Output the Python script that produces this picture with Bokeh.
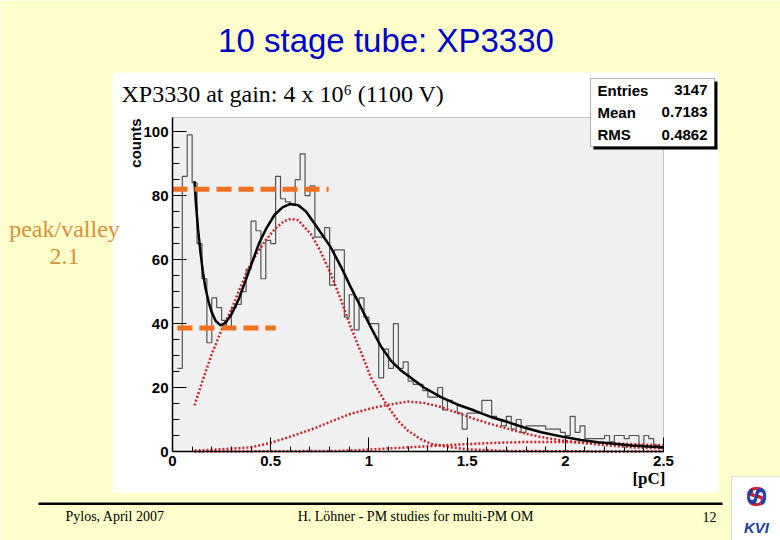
from bokeh.plotting import figure
from bokeh.models import (Range1d, Label, BoxAnnotation, SingleIntervalTicker,
                          NumeralTickFormatter, LinearAxis)
from bokeh.embed import file_html
from bokeh.resources import INLINE
import math

# ---------------- data ----------------
bin_width = 0.025
first_bin_low = 0.025
counts = [26, 86, 99, 84, 65, 54, 34, 48, 45, 41,
          39, 45, 46, 50, 57, 72, 69, 54, 66, 65,
          86, 79, 78, 77, 85, 93, 80, 83, 67, 67,
          70, 52, 63, 63, 42, 49, 38, 48, 42, 40,
          40, 23, 32, 26, 40, 26, 28, 22, 21, 21,
          19, 17, 17, 20, 13, 16, 15, 12, 7, 12,
          12, 12, 16, 16, 11, 10, 8, 11, 7, 10,
          6, 8, 8, 8, 8, 7, 7, 7, 6, 5,
          11, 6, 8, 4, 4, 4, 4, 5, 3, 5,
          5, 4, 5, 5, 2, 5, 4, 2, 1]

fit_x = [0.112, 0.12, 0.13, 0.143, 0.155, 0.168, 0.185, 0.2, 0.22, 0.245, 0.27, 0.3, 0.34,
         0.372, 0.44, 0.48, 0.52, 0.56, 0.6, 0.64, 0.68, 0.72, 0.76, 0.806, 0.86, 0.908,
         0.96, 1.01, 1.06, 1.112, 1.16, 1.2, 1.28, 1.367, 1.45, 1.537, 1.62, 1.708, 1.79,
         1.878, 1.995, 2.08, 2.167, 2.25, 2.337, 2.42, 2.5]
fit_y = [84.5, 77, 69.5, 62, 56, 51, 46.5, 43.5, 40.8, 39.4, 40.2, 42.8, 48,
         53.4, 65, 70, 74, 76.3, 77.4, 77, 75, 71.5, 68, 63.8, 57.5, 51.3,
         45, 38.8, 33, 28.4, 25.5, 23.7, 20, 17, 14.7, 12.8, 10.8, 9.2, 7.5,
         6.0, 4.5, 3.6, 2.9, 2.4, 1.9, 1.6, 1.3]

g1_x = [0.112, 0.15, 0.2, 0.25, 0.304, 0.35, 0.39, 0.43, 0.474, 0.52, 0.568, 0.602, 0.64,
        0.704, 0.75, 0.806, 0.86, 0.908, 0.96, 1.01, 1.087, 1.15, 1.197, 1.26, 1.316,
        1.418, 1.5, 1.7, 2.0, 2.5]
g1_y = [14.4, 21.5, 30.5, 38, 45, 52, 57.6, 62, 66, 69.5, 72, 72.7, 72.3,
        68, 63, 55.5, 47, 38.8, 31, 23.2, 14.9, 9.5, 6.6, 4, 2.4,
        1.3, 0.7, 0.2, 0.05, 0]

g2_x = [0.112, 0.2, 0.3, 0.398, 0.48, 0.568, 0.65, 0.738, 0.82, 0.908, 1.0, 1.078, 1.197,
        1.28, 1.367, 1.45, 1.537, 1.62, 1.708, 1.79, 1.878, 1.995, 2.167, 2.337, 2.5]
g2_y = [0.3, 0.5, 0.9, 1.3, 2.4, 4.0, 5.7, 7.6, 9.7, 11.8, 13.3, 14.4, 15.6,
        15.2, 13.9, 12.1, 10.2, 8.6, 7.1, 5.7, 4.5, 3.3, 2.2, 1.3, 1.0]

g3_x = [0.112, 0.5, 0.86, 1.0, 1.2, 1.4, 1.6, 1.8, 2.0, 2.2, 2.5]
g3_y = [0.0, 0.05, 0.2, 0.6, 1.3, 2.0, 2.6, 3.0, 3.0, 2.7, 1.9]

pv_level = [82, 38.6]
pv_start = [0.0, 0.025]
pv_end = [0.795, 0.525]

stats_names = ["Entries", "Mean", "RMS"]
stats_values = ["3147", "0.7183", "0.4862"]

# ---------------- layout ----------------
W, H = 780, 540
FL, FR, FT, FB = 172, 663, 117, 451        # histogram frame inside the canvas (px)
XMAX, YMAX = 2.5, 104.4
ppx = (FR - FL) / XMAX
ppy = (FB - FT) / YMAX

p = figure(width=W, height=H, output_backend="svg", toolbar_location=None,
           x_range=Range1d(-FL / ppx, XMAX + (W - FR) / ppx),
           y_range=Range1d(-(H - FB) / ppy, YMAX + FT / ppy),
           x_axis_location=None, y_axis_location=None, min_border=0)
p.border_fill_color = "#FFFFCC"
p.background_fill_color = "#FFFFCC"
p.outline_line_color = None
p.xgrid.visible = False
p.ygrid.visible = False


def X(rx):
    return (rx - FL) / ppx


def Y(ry):
    return (FB - ry) / ppy


def lab(text, rx, ry, size, font="Liberation Sans", style="normal", color="black",
        align="left", baseline="middle", angle=0.0, level="annotation"):
    p.add_layout(Label(x=X(rx), y=Y(ry), text=text, text_font=font,
                       text_font_size=f"{size}px", text_font_style=style,
                       text_color=color, text_align=align, text_baseline=baseline,
                       angle=angle, level=level))


def box(l, r, t, b, fill, line=None, lw=1, level="annotation"):
    p.add_layout(BoxAnnotation(left=X(l), right=X(r), top=Y(t), bottom=Y(b),
                               fill_color=fill, fill_alpha=1.0 if fill else 0,
                               line_color=line, line_width=lw, level=level))


# white picture panel + grey frame
box(112, 718, 72, 492, "white", level="underlay")
p.add_layout(BoxAnnotation(left=0, right=XMAX, bottom=0, top=YMAX, fill_color="#F0F0F0",
                           fill_alpha=1.0, line_color="#555555", line_width=1,
                           level="underlay"))

# axes fixed at the histogram origin
xax = LinearAxis(fixed_location=0, bounds=(0, XMAX),
                 ticker=SingleIntervalTicker(interval=0.5, num_minor_ticks=5),
                 formatter=NumeralTickFormatter(format="0.[0]"))
yax = LinearAxis(fixed_location=0, bounds=(0, YMAX),
                 ticker=SingleIntervalTicker(interval=20, num_minor_ticks=4))
for ax, minor in ((xax, 5), (yax, 7)):
    ax.major_tick_in = 14
    ax.major_tick_out = 0
    ax.minor_tick_in = minor
    ax.minor_tick_out = 0
    ax.axis_line_color = "black"
    ax.axis_line_width = 1.5
    ax.major_tick_line_color = "black"
    ax.minor_tick_line_color = "black"
    ax.major_label_text_font = "Liberation Sans"
    ax.major_label_text_font_style = "bold"
    ax.major_label_text_font_size = "15px"
    ax.major_label_text_color = "black"
    ax.major_label_standoff = 4
p.add_layout(xax, "below")
p.add_layout(yax, "left")

# histogram
edges = [first_bin_low + bin_width * i for i in range(len(counts) + 1)]
p.step(edges, counts + [counts[-1]], mode="after", line_color="#555555", line_width=1.2)

# fit components
red = "#C2272D"
for gx, gy in ((g1_x, g1_y), (g2_x, g2_y), (g3_x, g3_y)):
    p.line(gx, gy, line_color=red, line_width=2.5, line_dash="2 2")
p.line(fit_x, fit_y, line_color="black", line_width=2.5)

# peak / valley markers
p.segment(x0=pv_start, y0=pv_level, x1=pv_end, y1=pv_level, line_color="#EE7020",
          line_width=5, line_dash="15 7")

# texts
lab("10 stage tube: XP3330", 385.5, 40, 33, color="#0000CC", align="center")
lab("XP3330 at gain: 4 x 10\u2076 (1100 V)", 121, 93, 24, font="Liberation Serif")
lab("counts", 135, 118, 15, style="bold", align="right", angle=math.pi / 2)
lab("[pC]", 665, 478, 17, font="Liberation Serif", style="bold", align="right")

# stats box
box(593, 717, 81, 149, "black", level="overlay")
box(590, 714, 78, 146, "white", line="black", lw=1, level="overlay")
for i, (nm, vl) in enumerate(zip(stats_names, stats_values)):
    yc = 89.5 + 22.3 * i
    lab(nm, 597, yc, 15, style="bold", level="overlay")
    lab(vl, 707, yc, 15, style="bold", align="right", level="overlay")

# peak/valley annotation
lab("peak/valley", 64, 228, 24, font="Liberation Serif", color="#D8913A", align="center")
lab("2.1", 64, 256, 24, font="Liberation Serif", color="#D8913A", align="center")

# footer
box(38, 722, 502, 504.5, "black")
lab("Pylos, April 2007", 65, 516, 14, font="Liberation Serif")
lab("H. L\u00f6hner - PM studies for multi-PM OM", 415, 516, 14, font="Liberation Serif", align="center")
lab("12", 716, 516, 14, font="Liberation Serif", align="right")

# KVI logo
box(731, 782, 476, 542, "white", line="#999999")
lab("S", 756, 496, 28, style="bold", color="#D02030", align="center")
lab("S", 756, 496, 28, style="bold", color="#2040A0", align="center", angle=math.pi / 2)
lab("KVI", 756, 527, 15, style="bold italic", color="#1B3C9C", align="center")

open("out.html", "w").write(file_html(p, INLINE))
